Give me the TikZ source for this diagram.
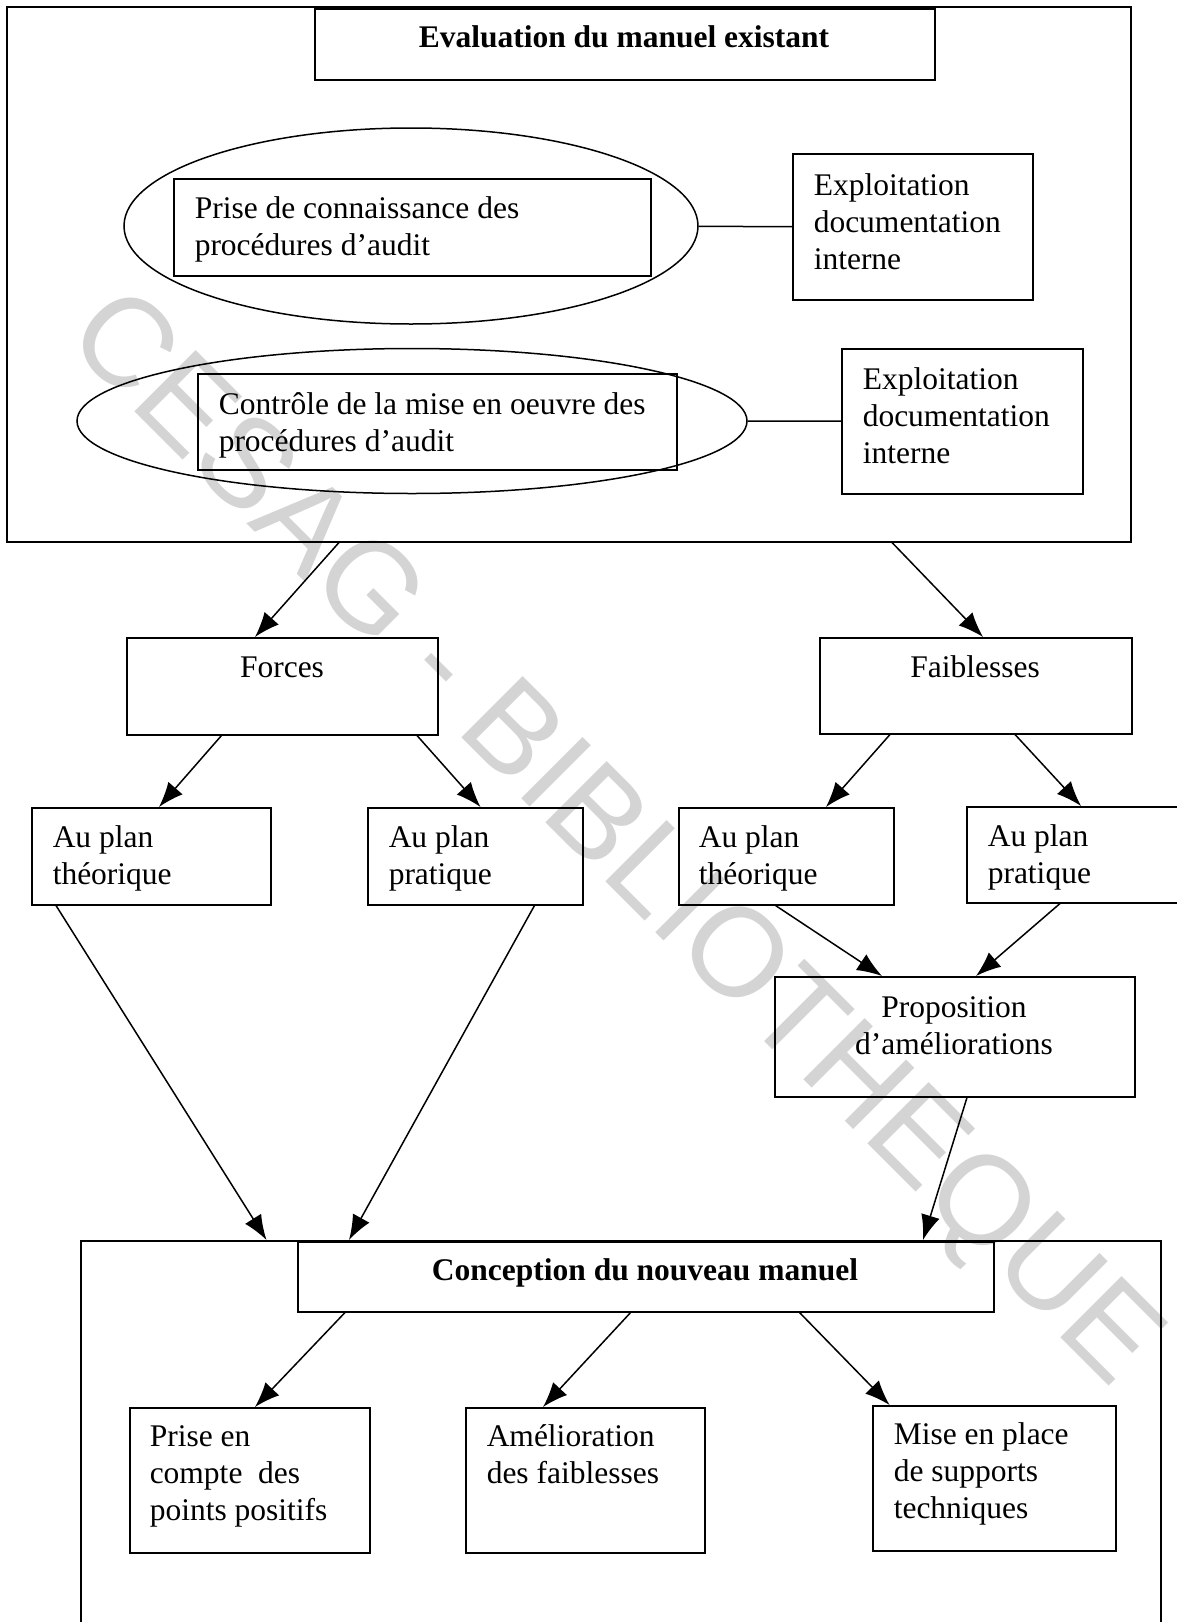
\documentclass[tikz,border=0pt]{standalone}
\usepackage{fontspec}
\setmainfont{Liberation Serif}
\newfontfamily\wmfont{Liberation Sans}
\usetikzlibrary{arrows.meta}
\usetikzlibrary{shapes.geometric}

\newcommand{\topline}{\rule{0pt}{30pt}}

\begin{document}
\begin{tikzpicture}
  [x=1pt,y=-1pt,line width=1.5pt,
   box/.style={draw,rectangle,anchor=north west,inner sep=0pt},
   oval/.style={draw,ellipse,inner sep=0pt},
   txt/.style={anchor=north west,align=left,inner sep=0pt,font=\fontsize{31.5}{37}\selectfont},
   ctxt/.style={anchor=base,inner sep=0pt,font=\fontsize{31.5}{37}\selectfont},
   arr/.style={-{Latex[length=25pt,width=19pt]}}]
  \path[use as bounding box,clip] (0,0) rectangle (1177,1622);
  \node (wm) at (611,842) [rotate=-45,inner sep=0pt,text=black!17,font=\wmfont\fontsize{126}{126}\selectfont] {CESAG - BIBLIOTHEQUE};

  \node (upper) at (6,6)     [box,minimum width=1124pt,minimum height=535pt] {};
  \node (evalb) at (314,8)   [box,minimum width=620pt,minimum height=71pt] {};
  \node (oval1) at (411,226) [oval,minimum width=574pt,minimum height=196pt] {};
  \node (prise) at (173,178) [box,minimum width=477pt,minimum height=97pt] {};
  \node (expl1) at (792,153) [box,minimum width=240pt,minimum height=146pt] {};
  \node (oval2) at (412,421) [oval,minimum width=670pt,minimum height=145pt] {};
  \node (ctrl)  at (197,373) [box,minimum width=479pt,minimum height=96pt] {};
  \node (expl2) at (841,348) [box,minimum width=241pt,minimum height=145pt] {};

  \node (forces) at (126,637) [box,minimum width=311pt,minimum height=97pt] {};
  \node (faib)   at (819,637) [box,minimum width=312pt,minimum height=96pt] {};
  \node (theoL)  at (31,807)  [box,minimum width=239pt,minimum height=97pt] {};
  \node (pratL)  at (367,807) [box,minimum width=215pt,minimum height=97pt] {};
  \node (theoR)  at (678,807) [box,minimum width=215pt,minimum height=97pt] {};
  \node (pratR)  at (966,806) [box,minimum width=230pt,minimum height=96pt] {};
  \node (prop)   at (774,976) [box,minimum width=360pt,minimum height=120pt] {};

  \node (lower) at (80,1240)  [box,minimum width=1080pt,minimum height=420pt] {};
  \node (conc)  at (297,1241) [box,minimum width=696pt,minimum height=70pt] {};
  \node (pos)   at (129,1407) [box,minimum width=240pt,minimum height=145pt] {};
  \node (amel)  at (465,1407) [box,minimum width=239pt,minimum height=145pt] {};
  \node (mise)  at (872,1405) [box,minimum width=243pt,minimum height=145pt] {};

  \node (evalT)   at (624,47.5)  [ctxt] {\bfseries Evaluation du manuel existant};
  \node (priseT)  at (194,188)   [txt] {\topline Prise de connaissance des\\procédures d’audit};
  \node (expl1T)  at (813,165)   [txt] {\topline Exploitation\\documentation\\interne};
  \node (ctrlT)   at (218,384)   [txt] {\topline Contrôle de la mise en oeuvre des\\procédures d’audit};
  \node (expl2T)  at (862,359)   [txt] {\topline Exploitation\\documentation\\interne};
  \node (forcesT) at (282,677.5) [ctxt] {Forces};
  \node (faibT)   at (975,677.5) [ctxt] {Faiblesses};
  \node (theoLT)  at (52,817)    [txt] {\topline Au plan\\théorique};
  \node (pratLT)  at (388,817)   [txt] {\topline Au plan\\pratique};
  \node (theoRT)  at (698,817)   [txt] {\topline Au plan\\théorique};
  \node (pratRT)  at (987,816)   [txt] {\topline Au plan\\pratique};
  \node (propT)   at (954,987)   [txt,anchor=north,align=center] {\topline Proposition\\d’améliorations};
  \node (concT)   at (645,1280.5) [ctxt] {\bfseries Conception du nouveau manuel};
  \node (posT)    at (149,1416)  [txt] {\topline Prise en\\compte\ \ des\\points positifs};
  \node (amelT)   at (486,1416)  [txt] {\topline Amélioration\\des faiblesses};
  \node (miseT)   at (893,1414)  [txt] {\topline Mise en place\\de supports\\techniques};

  \foreach \from/\to in {oval1/expl1,oval2/expl2}
    \draw (\from) -- (\to);

  \foreach \from/\fx/\to/\tx in {upper/333/forces/129,upper/886/faib/164,
      forces/95.5/theoL/128,forces/291/pratL/113.5,faib/71/theoR/148,faib/196/pratR/115,
      theoR/97.5/prop/108,pratR/94/prop/202,theoL/25/lower/186.5,pratL/167.5/lower/269,
      prop/193/lower/843,conc/48/pos/126,conc/333.6/amel/78,conc/502.5/mise/17.6}
    \draw[arr] ([xshift=\fx pt]\from.south west) -- ([xshift=\tx pt]\to.north west);
\end{tikzpicture}
\end{document}
